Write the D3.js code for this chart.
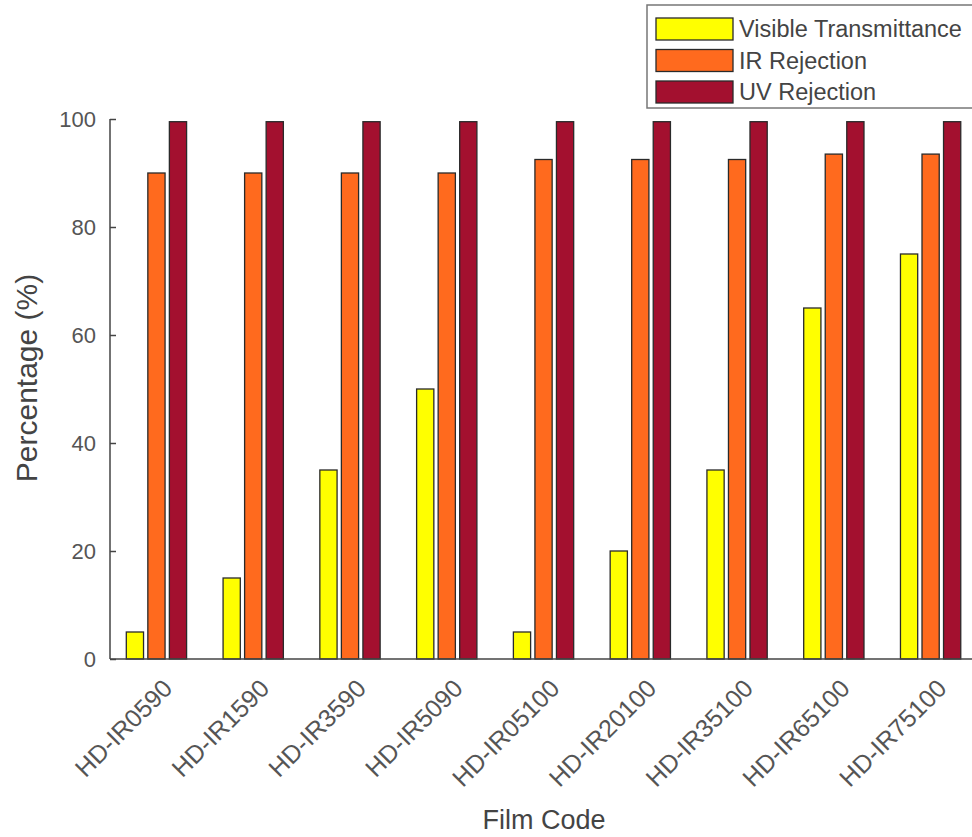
<!DOCTYPE html>
<html>
<head>
<meta charset="utf-8">
<script src="https://cdn.jsdelivr.net/npm/d3@7"></script>
<style>
  html, body { margin: 0; padding: 0; background: #fff; }
  svg { display: block; font-family: "Liberation Sans", Arial, Helvetica, sans-serif; }
</style>
</head>
<body>
<svg id="chart" width="972" height="837"></svg>
<script>
const categories = ["HD-IR0590", "HD-IR1590", "HD-IR3590", "HD-IR5090", "HD-IR05100", "HD-IR20100", "HD-IR35100", "HD-IR65100", "HD-IR75100"];
const seriesNames = ["Visible Transmittance", "IR Rejection", "UV Rejection"];
const visible = [5, 15, 35, 50, 5, 20, 35, 65, 75];
const irRejection = [90, 90, 90, 90, 92.5, 92.5, 92.5, 93.5, 93.5];
const uvRejection = [99.5, 99.5, 99.5, 99.5, 99.5, 99.5, 99.5, 99.5, 99.5];
const yTicks = [0, 20, 40, 60, 80, 100];
const xLabel = "Film Code";
const yLabel = "Percentage (%)";

const seriesValues = [visible, irRejection, uvRejection];
const colors = ["#ffff00", "#ff6a1e", "#a3102f"];

const svg = d3.select("#chart");
const plotLeft = 110, plotBottom = 659, plotTop = 119, plotRight = 979;

const x = d3.scaleLinear().domain([0.52, 9.5]).range([plotLeft, plotRight]);
const y = d3.scaleLinear().domain([0, 100]).range([plotBottom, plotTop]);
const step = x(2) - x(1);
const slot = step * 0.2225;
const barW = slot * 0.8;

// bars
seriesValues.forEach((vals, si) => {
  svg.append("g").selectAll("rect")
    .data(vals)
    .join("rect")
    .attr("x", (d, i) => x(i + 1) + (si - 1) * slot - barW / 2)
    .attr("y", d => y(d))
    .attr("width", barW)
    .attr("height", d => y(0) - y(d))
    .attr("fill", colors[si])
    .attr("stroke", "#2a2a2a")
    .attr("stroke-width", 1.3);
});

// y axis
const yAxis = d3.axisLeft(y).tickValues(yTicks).tickSize(-6).tickPadding(14);
const gy = svg.append("g").attr("transform", `translate(${plotLeft},0)`).call(yAxis);
gy.select(".domain").attr("stroke", "#444").attr("stroke-width", 1.5).attr("d", `M0,${plotBottom}V${plotTop}`);
gy.selectAll(".tick line").attr("stroke", "#444").attr("stroke-width", 1.5);
gy.selectAll(".tick text").attr("font-size", 22).attr("fill", "#555")
  .attr("font-family", "Liberation Sans, Arial, sans-serif");

// x axis
const xAxis = d3.axisBottom(x).tickValues(d3.range(1, categories.length + 1))
  .tickFormat(d => categories[d - 1]).tickSize(0);
const gx = svg.append("g").attr("transform", `translate(0,${plotBottom})`).call(xAxis);
gx.select(".domain").attr("stroke", "#444").attr("stroke-width", 1.5).attr("d", `M${plotLeft},0H972`);
gx.selectAll(".tick text")
  .attr("font-size", 25).attr("fill", "#555")
  .attr("font-family", "Liberation Sans, Arial, sans-serif")
  .attr("text-anchor", "end")
  .attr("dy", 0).attr("y", 0)
  .attr("transform", "translate(17,31) rotate(-45)");

// axis labels
svg.append("text")
  .attr("x", 544).attr("y", 829)
  .attr("text-anchor", "middle")
  .attr("font-size", 27).attr("fill", "#444")
  .text(xLabel);

svg.append("text")
  .attr("transform", `translate(37,378) rotate(-90)`)
  .attr("text-anchor", "middle")
  .attr("font-size", 30).attr("fill", "#444")
  .text(yLabel);

// legend
const lg = svg.append("g");
lg.append("rect").attr("x", 647).attr("y", 5).attr("width", 340).attr("height", 103)
  .attr("fill", "#fff").attr("stroke", "#777").attr("stroke-width", 1.5);
seriesNames.forEach((name, i) => {
  const cy = 29 + i * 31.5;
  lg.append("rect").attr("x", 656).attr("y", cy - 11).attr("width", 77).attr("height", 22)
    .attr("fill", colors[i]).attr("stroke", "#2a2a2a").attr("stroke-width", 1.3);
  lg.append("text").attr("x", 739).attr("y", cy + 8)
    .attr("font-size", 23.5).attr("fill", "#444")
    .text(name);
});
</script>
</body>
</html>
